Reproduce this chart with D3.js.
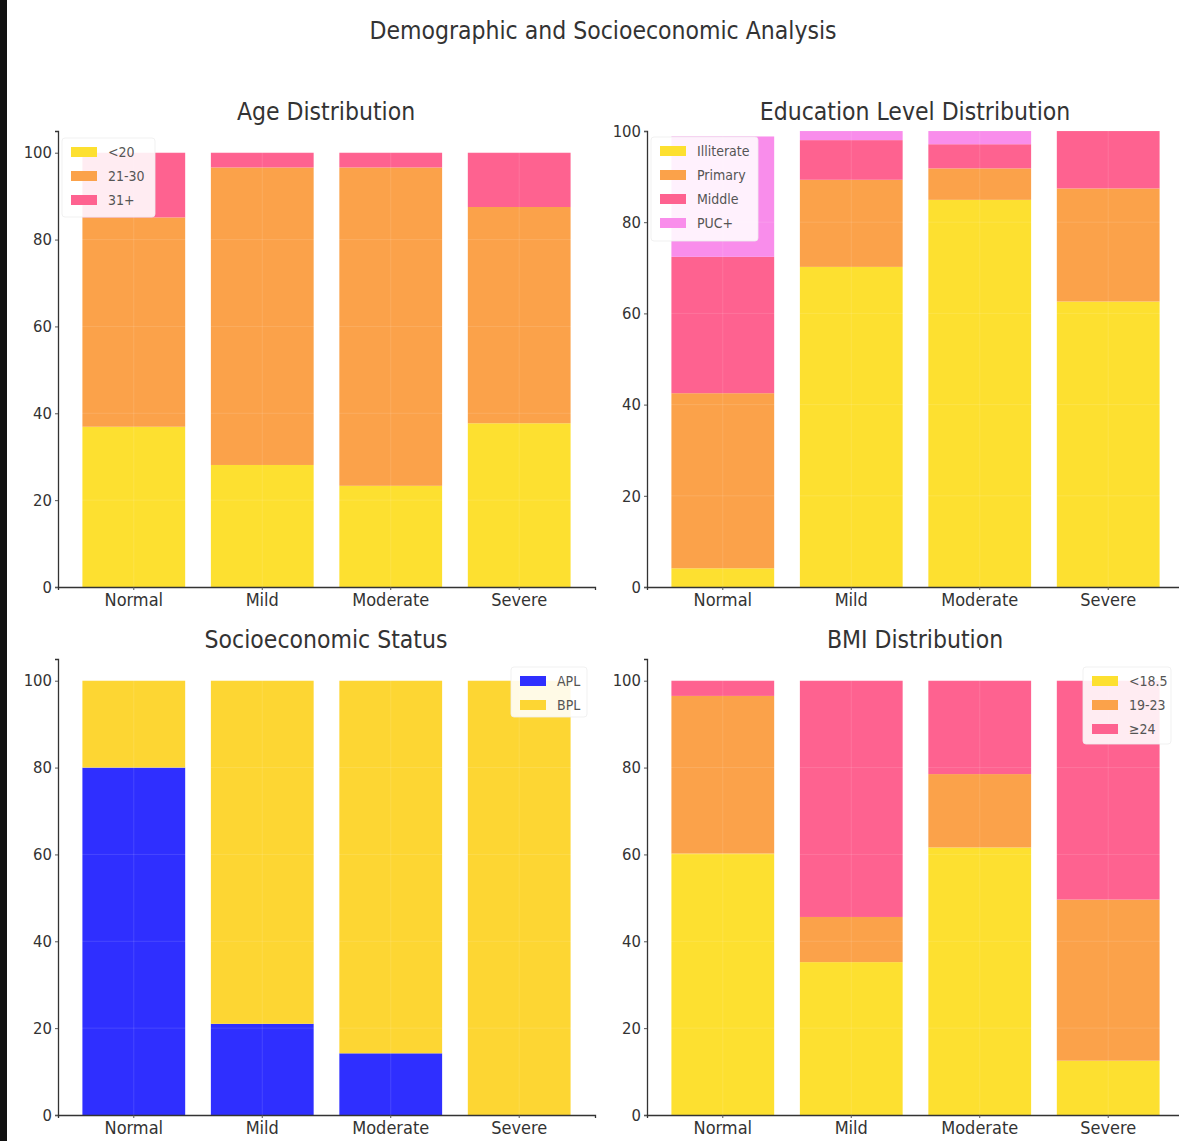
<!DOCTYPE html>
<html><head><meta charset="utf-8">
<script src="https://cdn.jsdelivr.net/npm/d3@7"></script>
<style>
html,body{margin:0;padding:0;background:#fff;}
svg text{font-family:"DejaVu Sans Condensed","DejaVu Sans",sans-serif;font-stretch:condensed;fill:#333;}
</style></head>
<body><svg id="chart" width="1179" height="1141"></svg>
<script>
const categories = ["Normal","Mild","Moderate","Severe"];
const yTicks = [0,20,40,60,80,100];

const ageKeys = ["<20","21-30","31+"];
const ageLt20 = [36.9, 28.1, 23.3, 37.7];
const age21to30 = [48.2, 68.5, 73.3, 49.8];
const age31plus = [14.9, 3.4, 3.4, 12.5];

const eduKeys = ["Illiterate","Primary","Middle","PUC+"];
const eduIlliterate = [4.1, 70.2, 84.9, 62.6];
const eduPrimary = [38.4, 19.1, 6.9, 24.8];
const eduMiddle = [29.9, 8.7, 5.3, 12.6];
const eduPUC = [26.4, 2.0, 2.9, 0];

const sesKeys = ["APL","BPL"];
const sesAPL = [80.0, 21.0, 14.2, 0];
const sesBPL = [20.0, 79.0, 85.8, 100];

const bmiKeys = ["<18.5","19-23","\u226524"];
const bmiLow = [60.2, 35.2, 61.6, 12.5];
const bmiMid = [36.3, 10.4, 16.9, 37.1];
const bmiHigh = [3.5, 54.4, 21.5, 50.4];

const YELLOW="#FDE030", ORANGE="#FBA24A", PINK="#FE6290", LPINK="#F98DEB", BLUE="#2F2FFF", GOLD="#FDD633";

function rows(keys, series){
  return categories.map((c,i)=>{const o={cat:c}; keys.forEach((k,j)=>o[k]=series[j][i]); return o;});
}

const panels = [
  {title:"Age Distribution", keys:ageKeys, series:[ageLt20,age21to30,age31plus], colors:[YELLOW,ORANGE,PINK],
   x0:58,x1:595,yTop:131,yBot:587,ymax:105, legend:{x:62,y:138,w:93,h:79}},
  {title:"Education Level Distribution", keys:eduKeys, series:[eduIlliterate,eduPrimary,eduMiddle,eduPUC], colors:[YELLOW,ORANGE,PINK,LPINK],
   x0:647,x1:1184,yTop:131,yBot:587,ymax:100, legend:{x:651,y:137,w:107,h:104}},
  {title:"Socioeconomic Status", keys:sesKeys, series:[sesAPL,sesBPL], colors:[BLUE,GOLD],
   x0:58,x1:595,yTop:659,yBot:1115,ymax:105, legend:{x:511,y:667,w:76,h:50}},
  {title:"BMI Distribution", keys:bmiKeys, series:[bmiLow,bmiMid,bmiHigh], colors:[YELLOW,ORANGE,PINK],
   x0:647,x1:1184,yTop:659,yBot:1115,ymax:105, legend:{x:1083,y:667,w:88,h:77}}
];

const svg = d3.select("#chart");
svg.append("rect").attr("x",0).attr("y",0).attr("width",7).attr("height",1141).attr("fill","#111");

svg.append("text").attr("x",603).attr("y",39).attr("text-anchor","middle")
  .style("font-size","24.5px").text("Demographic and Socioeconomic Analysis");

panels.forEach(p=>{
  const data = rows(p.keys,p.series);
  const stack = d3.stack().keys(p.keys)(data);
  const x = d3.scaleBand().domain(categories).range([p.x0,p.x1]).paddingInner(0.2).paddingOuter(0.19);
  const y = d3.scaleLinear().domain([0,p.ymax]).range([p.yBot,p.yTop]);
  const color = d3.scaleOrdinal().domain(p.keys).range(p.colors);
  const g = svg.append("g");

  g.selectAll("g.layer").data(stack).join("g").attr("fill",d=>color(d.key))
    .selectAll("rect").data(d=>d).join("rect")
    .attr("x",d=>x(d.data.cat)).attr("width",x.bandwidth())
    .attr("y",d=>y(d[1])).attr("height",d=>Math.max(0,y(d[0])-y(d[1])));

  // faint grid over bars
  const grid = g.append("g").attr("stroke","#fff").attr("stroke-opacity",0.12).attr("stroke-width",1);
  yTicks.slice(1).forEach(t=>grid.append("line").attr("x1",p.x0).attr("x2",p.x1).attr("y1",y(t)).attr("y2",y(t)));
  categories.forEach(c=>grid.append("line").attr("x1",x(c)+x.bandwidth()/2).attr("x2",x(c)+x.bandwidth()/2).attr("y1",p.yTop).attr("y2",p.yBot));

  const ya = g.append("g").attr("transform",`translate(${p.x0},0)`)
    .call(d3.axisLeft(y).tickValues(yTicks).tickSize(3).tickPadding(3));
  const xa = g.append("g").attr("transform",`translate(0,${p.yBot})`)
    .call(d3.axisBottom(x).tickSize(3).tickPadding(3));
  [ya,xa].forEach(a=>{
    a.select(".domain").attr("stroke","#333").attr("stroke-width",1.3);
    a.selectAll(".tick line").attr("stroke","#555");
  });
  ya.selectAll(".tick text").style("font-size","16.5px").attr("fill","#333");
  xa.selectAll(".tick text").style("font-size","18px").attr("fill","#333");

  g.append("text").attr("x",p.x0 + 268).attr("y",p.yTop-11)
    .attr("text-anchor","middle").style("font-size","24.5px").text(p.title);

  const L = p.legend;
  const lg = g.append("g");
  lg.append("rect").attr("x",L.x).attr("y",L.y).attr("width",L.w).attr("height",L.h)
    .attr("rx",3).attr("fill","#fff").attr("fill-opacity",0.88).attr("stroke","#eee").attr("stroke-width",0.8);
  p.keys.forEach((k,i)=>{
    const ry = L.y + 14 + i*24;
    lg.append("rect").attr("x",L.x+9).attr("y",ry-5).attr("width",26).attr("height",10).attr("fill",color(k));
    lg.append("text").attr("x",L.x+46).attr("y",ry+5).style("font-size","14px").attr("fill","#555").style("fill","#555").text(k);
  });
});
</script></body></html>
